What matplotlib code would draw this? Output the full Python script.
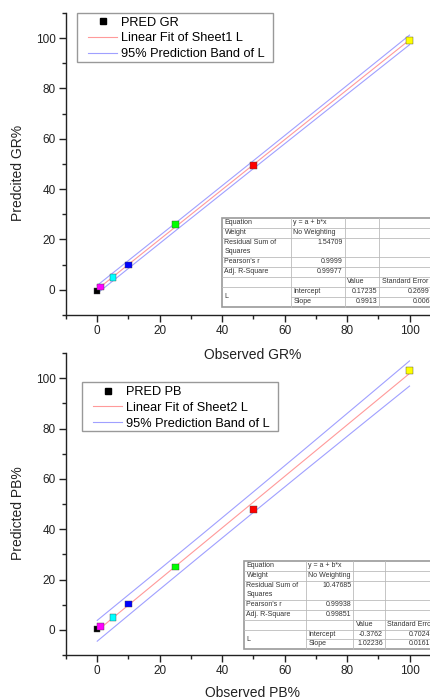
import matplotlib
matplotlib.use("Agg")
import matplotlib.pyplot as plt
import numpy as np
from matplotlib.lines import Line2D
from matplotlib.ticker import MultipleLocator

plt.rcParams['font.family'] = ['Liberation Sans', 'DejaVu Sans']

# ---------------- data ----------------
observed = [0, 1, 5, 10, 25, 50, 100]
pred_gr = [-0.5, 1.1, 5.0, 9.9, 26.0, 49.4, 99.1]
pred_pb = [0.4, 1.3, 5.0, 10.2, 25.0, 47.9, 103.1]
point_colors = ['#000000', '#FF00FF', '#00FFFF', '#0000FF', '#00FF00', '#FF0000', '#FFFF00']

gr_intercept, gr_slope, gr_rss = 0.17235, 0.9913, 1.54709
pb_intercept, pb_slope, pb_rss = -0.3762, 1.02236, 10.47685
t_975_df5 = 2.5706

gr_table = [
    ["Equation", "y = a + b*x", "", ""],
    ["Weight", "No Weighting", "", ""],
    ["Residual Sum of\nSquares", "1.54709", "", ""],
    ["Pearson's r", "0.9999", "", ""],
    ["Adj. R-Square", "0.99977", "", ""],
    ["", "", "Value", "Standard Error"],
    ["L", "Intercept", "0.17235", "0.2699"],
    ["", "Slope", "0.9913", "0.006"],
]
pb_table = [
    ["Equation", "y = a + b*x", "", ""],
    ["Weight", "No Weighting", "", ""],
    ["Residual Sum of\nSquares", "10.47685", "", ""],
    ["Pearson's r", "0.99938", "", ""],
    ["Adj. R-Square", "0.99851", "", ""],
    ["", "", "Value", "Standard Error"],
    ["L", "Intercept", "-0.3762", "0.7024"],
    ["", "Slope", "1.02236", "0.0161"],
]

W, H = 431, 700
fig = plt.figure(figsize=(W / 100, H / 100), dpi=100)


def fx(x):
    return x / W


def fy(y):
    return 1 - y / H


def make_axes(top_px, bottom_px):
    left = 66
    right = 66 + 120 * 3.123
    ax = fig.add_axes([fx(left), fy(bottom_px), (right - left) / W, (bottom_px - top_px) / H])
    ax.set_xlim(-10, 110)
    ax.set_ylim(-10, 110)
    for s in ['top', 'right']:
        ax.spines[s].set_visible(False)
    for s in ['left', 'bottom']:
        ax.spines[s].set_linewidth(1.0)
        ax.spines[s].set_color('#222222')
    ax.xaxis.set_minor_locator(MultipleLocator(10))
    ax.yaxis.set_minor_locator(MultipleLocator(10))
    ax.set_xticks([0, 20, 40, 60, 80, 100])
    ax.set_yticks([0, 20, 40, 60, 80, 100])
    ax.tick_params(which='major', direction='out', length=5, width=1.0, labelsize=8.5, pad=2.5,
                   colors='#222222')
    ax.tick_params(which='minor', direction='out', length=3, width=1.0, colors='#222222')
    return ax


def draw_panel(ax, preds, intercept, slope, rss, label, fit_label):
    x = np.asarray(observed, dtype=float)
    n = len(x)
    xs = np.linspace(0, 100, 200)
    fit = intercept + slope * xs
    s = np.sqrt(rss / (n - 2))
    sxx = np.sum((x - x.mean()) ** 2)
    hw = t_975_df5 * s * np.sqrt(1 + 1 / n + (xs - x.mean()) ** 2 / sxx)
    ax.plot(xs, fit, color='#FF9A9A', lw=0.8, zorder=2)
    ax.plot(xs, fit + hw, color='#A0A0FF', lw=0.8, zorder=2)
    ax.plot(xs, fit - hw, color='#A0A0FF', lw=0.8, zorder=2)
    ax.scatter(observed, preds, marker='s', s=22, c=point_colors, edgecolors='#444444',
               linewidths=0.3, zorder=3, clip_on=False)
    handles = [
        Line2D([], [], marker='s', color='black', linestyle='none', markersize=4.5),
        Line2D([], [], color='#FF9A9A', lw=0.8),
        Line2D([], [], color='#A0A0FF', lw=0.8),
    ]
    return handles, [label, fit_label, "95% Prediction Band of L"]


def draw_legend(ax, handles, labels, anchor_px, box_px):
    leg = ax.legend(handles, labels, loc='upper left', bbox_to_anchor=(fx(anchor_px[0]), fy(anchor_px[1])),
                    bbox_transform=fig.transFigure, borderaxespad=0, fontsize=9.2, frameon=False,
                    handlelength=2.27, handletextpad=0.29, labelspacing=0.31, borderpad=0)
    x0, y0, x1, y1 = box_px
    rect = plt.Rectangle((fx(x0), fy(y1)), (x1 - x0) / W, (y1 - y0) / H, transform=fig.transFigure,
                         facecolor='white', edgecolor='#999999', lw=1.0, zorder=4, clip_on=False)
    ax.add_patch(rect)
    leg.set_zorder(6)
    return leg


def draw_table(data, cols, rows):
    fs = 5.0
    c_line = '#BBBBBB'
    rect = plt.Rectangle((fx(cols[0]), fy(rows[-1])), (cols[-1] - cols[0]) / W,
                         (rows[-1] - rows[0]) / H, transform=fig.transFigure,
                         facecolor='white', edgecolor='#999999', lw=1.2, zorder=5)
    fig.add_artist(rect)
    for i, y in enumerate(rows[1:-1], start=1):
        x_start = cols[0]
        if i == 7:
            x_start = cols[1]
        fig.add_artist(Line2D([fx(x_start), fx(cols[-1])], [fy(y), fy(y)],
                              transform=fig.transFigure, color=c_line, lw=0.6, zorder=6))
    for x in cols[1:-1]:
        fig.add_artist(Line2D([fx(x), fx(x)], [fy(rows[0]), fy(rows[-1])],
                              transform=fig.transFigure, color=c_line, lw=0.6, zorder=6))
    for r, row in enumerate(data):
        for c, txt in enumerate(row):
            if not txt:
                continue
            top = rows[r]
            bot = rows[r + 1]
            if r == 6 and c == 0:
                bot = rows[8]
                yy = (top + bot) / 2
                va = 'center'
            else:
                yy = top + 1.0
                va = 'top'
            numeric = txt[0].isdigit() or txt[0] == '-'
            if numeric:
                xx = min(cols[c + 1] - 2, W - 1)
                ha = 'right'
            else:
                xx = cols[c] + 2.5
                ha = 'left'
            fig.text(fx(xx), fy(yy), txt, fontsize=fs, ha=ha, va=va, color='#333333',
                     zorder=7, linespacing=1.4)


# ---------------- top panel ----------------
ax1 = make_axes(13, 315)
h, l = draw_panel(ax1, pred_gr, gr_intercept, gr_slope, gr_rss, "PRED GR", "Linear Fit of Sheet1 L")
draw_legend(ax1, h, l, (88, 16.5), (77, 13, 273, 62))
fig.text(fx(18), fy(173), "Predcited GR%", rotation=90, ha='center', va='center', fontsize=10,
         color='#222222')
fig.text(fx(253), fy(355), "Observed GR%", ha='center', va='center', fontsize=10, color='#222222')
draw_table(gr_table, [222, 290.7, 344.7, 379.3, 440], [218, 228, 238, 257, 267, 277, 287, 297, 307])

# ---------------- bottom panel ----------------
ax2 = make_axes(353, 655)
h, l = draw_panel(ax2, pred_pb, pb_intercept, pb_slope, pb_rss, "PRED PB", "Linear Fit of Sheet2 L")
draw_legend(ax2, h, l, (93.3, 386.0), (81.7, 382.3, 278, 431))
fig.text(fx(18), fy(513), "Predicted PB%", rotation=90, ha='center', va='center', fontsize=10,
         color='#222222')
fig.text(fx(253), fy(693), "Observed PB%", ha='center', va='center', fontsize=10, color='#222222')
draw_table(pb_table, [244, 305.7, 353.3, 385, 440], [561, 571, 581, 600, 610, 620, 630, 639, 649])

fig.savefig("out.png", dpi=100)
